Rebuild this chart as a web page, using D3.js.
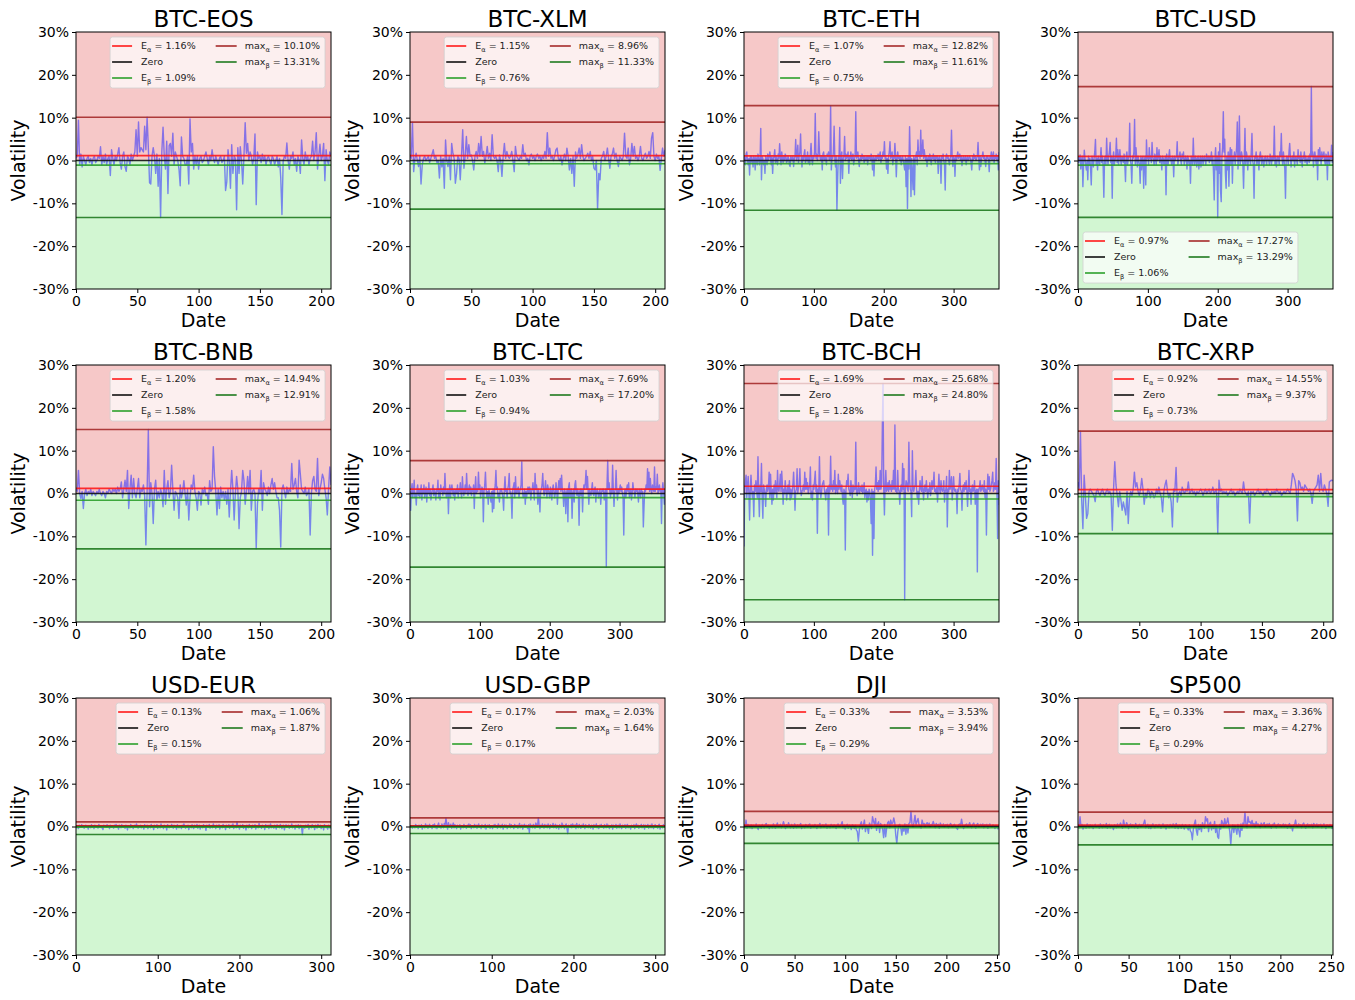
<!DOCTYPE html>
<html><head><meta charset="utf-8">
<script src="https://cdn.jsdelivr.net/npm/d3@7"></script>
<style>body{margin:0;background:#fff}svg text{font-family:"DejaVu Sans",sans-serif;white-space:pre}</style>
</head><body><svg id="chart" width="1355" height="1000"></svg>
<script>
const names = ["BTC-EOS","BTC-XLM","BTC-ETH","BTC-USD","BTC-BNB","BTC-LTC","BTC-BCH","BTC-XRP","USD-EUR","USD-GBP","DJI","SP500"];
const eAlpha = [1.16,1.15,1.07,0.97,1.20,1.03,1.69,0.92,0.13,0.17,0.33,0.33];
const eBeta  = [1.09,0.76,0.75,1.06,1.58,0.94,1.28,0.73,0.15,0.17,0.29,0.29];
const maxAlpha = [10.10,8.96,12.82,17.27,14.94,7.69,25.68,14.55,1.06,2.03,3.53,3.36];
const maxBeta  = [13.31,11.33,11.61,13.29,12.91,17.20,24.80,9.37,1.87,1.64,3.94,4.27];
const yTicks = [-30,-20,-10,0,10,20,30];
const xTicks50 = [0,50,100,150,200];
const xTicks100 = [0,100,200,300];
const xTicks250 = [0,50,100,150,200,250];
const legendCorner = ["ur","ur","ur","ll","ur","ur","ur","ur","ur","ur","ur","ur"];

const eos = [0.5,1,9.4,-1,1.5,-1.5,1,0,-1,0.5, 1,-0.5,0.5,-1,0.5,1,-0.5,0,1,0.5, 3.2,-1,1,-0.5,1.5,-1,0.5,1,-3.5,2.5,
 0.5,-1,1,0,1.5,3,-0.5,-2,1,2, -1.5,-2.5,1,0.5,-1,1.5,0,1,2,7.2, 1,9,2,3,2.5,2,8,2.5,10.1,3,
 -5.2,-5.5,1,3,1,-3,1.5,-6,0.5,-13.31, 2,7.8,1,-2,4.5,-7.7,3.5,4,1,6.4, -1,2,1,0,-2,-5.9,5.5,1,0.5,-1,
 -1,1,-5.5,9.7,2,4,-2,1,-1,1, -2,0.5,1,-0.5,0,1,2,0.5,-1,1, 0,2.5,0.5,-0.5,1,0,-1,0.5,1,-0.5,
 0,1,-7,-5,2.5,0,-6.5,3.7,-3,1, 0.5,-11.5,3,-3,3.2,0,-5.5,1,8.8,1.7, 4,0,2,1,-1,0.5,6.2,-10.3,2,0.5,
 1,-0.5,1.5,0,1,-1,0.5,1,0,-1, 1,0.5,-1,0,1,-1.5,0.5,-4,-12.6,0, 1,0.5,4.1,0,-2,1,0.5,2,-1,0.5,
 -2.5,1,0,-3,4.8,0.5,-1,2,0,1, -1,0.5,1,4.5,0,2,6.5,-2,1,3.8, 0,1,4,-4.7,2.5,0,-1,2,1];
const xlm = [1,0.5,8.96,-2.6,0.5,1.7,0,-1.4,1,-5.5, -1,0.5,1,0,0.5,1,-0.5,0.5,1.5,2.5, 0.5,1,-0.5,0,-4.1,1,-1.5,0.5,-6.5,4.8,
 0,-1.4,1,-4.5,4,1.7,0.5,-5.3,-3,1, 0.5,-4.5,1,7.2,-1.8,1,5.6,0.5,3.7,1, 1.3,0,-2.2,1,2.1,0.5,4,1,5.6,1,
 2.1,-0.6,1,3.3,0.5,1.7,0,6,1,0.5, 1,0,-2.6,1.3,0,-3.7,1,4,0.5,2.1, 1,0.5,1,2.1,0,-2.6,3.3,1,0.5,0,
 1,0.5,3.7,1,1.7,0,0.5,-1,1,1.5, 0.5,1,0,1,1.5,0.5,1,0,1,0.5, 2.1,0.5,6.5,1,2.9,0.5,1,0,1,2.5,
 2.9,0.5,0,1,-1,0.5,1.5,0,2.9,1, -2.2,0.5,-3,1,-6,2,0.5,1.5,2.9,0.5, 3.7,1,0,0.5,1,1.7,0.5,2.1,0,1,
 -1.8,-2.2,0,-11.33,-3,-4.5,0.5,1,2.1,0, 1,2.9,0.5,-1.8,1,1.5,2.9,0.5,1.7,0, -1.4,1,0.5,0,1,6.4,1,0.5,2.9,-1,
 0.5,4,1,3.3,0.5,1,0,1,3.3,0.5, 0,1,1.7,0.5,1,2.1,0.5,5.2,6.5,1, 0,1.5,0.5,1,-2.3,0.5,2.9,1,2.5];
const eth = [1,0.5,-1,1.5,2,0,-1,0.5,-3.4,1, -0.5,1,0,-1.5,1,0.5,-2.2,1,0,-1, 1.5,0.5,-1,0,7.5,-4.5,1,0.5,-1,0,
 -3,1,0.5,-1,1.5,0,1,2,0.5,-1, 1,-3,0.5,1,2.5,-0.5,1,0,-1,1.5, 0.5,3.9,1,-1,2,0.5,-0.5,1,0,1.5,
 1,-0.5,0,1,0.5,-1,-1.4,1,0.5,0, 1,-1.4,0.5,1,4.9,0,1,3.6,-0.5,1, 2,6.2,0.5,-1.5,1,0,1.5,2.5,-0.5,1,
 0,2,-0.5,1,-1,1.5,4,0.5,-1,1, 0.5,2,11,0.5,1.5,0,1,6.7,2,0.5, 0,1,-2.2,1.5,2,0,1,0.5,-1,1.5,
 1,2,0,0.5,12.82,-2.2,1,0.5,2,8, 0.5,-1.5,1,-11.61,-4.5,1,0.5,7.7,-5.3,1, 2,-4.2,0.5,1,5.6,0,1.5,0.5,1,2,
 -3,1,0.5,2,0,1,1.5,-1,0.5,1, 11.4,0.5,1,2,0,-1.4,0.5,1,0,1.5, 0.5,1,-0.5,1,0,0.5,1,-1,1,0.5,
 1,0,1.5,0.5,-2.2,1,-3.6,0.5,1,0, 1,0.5,1.5,0,1,2,-0.5,1,0.5,2, 1,4.4,0.5,1,-2,0.5,-3,1,2,4.4,
 0.5,1,2,-1,1,0.5,4,1,-3.8,0.5, 2,0.5,1,0,1,-1,0.5,1,0,-1, -2.2,1,-6.1,0.5,-11.2,1,-2,7.9,1,-8.4,
 0.5,-3,-6.8,1,-8,0.5,1,2,-1,4.8, 1,2,0.5,7.1,1,2,4.8,0.5,2.5,1, 0,1,-1.4,0.5,1,0,1.5,0.5,-1,1,
 0.5,1.5,0,1,-0.5,1,0.5,1,-3,0.5, 1,0,-5.3,1,0.5,1.5,0,-1,-6.9,1, 1.5,0.5,1,0,-1,0.5,1,7.1,0.5,-1.4,
 1,0.5,-3.7,1,0,1,2,0.5,1,1.5, 0,1,-1.2,0.5,1,0,0.5,1,-1,0.5, 1,0,0.5,1,0.5,-0.5,-2.2,1,0,1.5,
 0.5,1,0,0.5,1,4.2,0.5,-2.2,1,-1.4, 0.5,1,2,0.5,1,0,-1.4,1,0.5,1, 0,-2.6,1,0.5,2,0,1,2,-0.5,1,
 0.5,1.5,0,1,-2.2,2];
const usd = [1,-0.5,0.5,1.3,-2,0,1,-6.1,-1,2.4, 0.5,-1,-2.2,0,-4.5,1,-1,0.5,-2,-5.7, 1,0,-1.5,0.5,2,4.9,-1,0.5,-2.2,1,
 0,-1,0.5,3,-0.5,1,-1.5,-8.6,0.5,1, -1,5.2,0.5,-1,1,2,4.2,-0.5,1,-8.8, 0.5,2,-1,0,1,5.2,-0.5,2.5,-1,1,
 2.5,0,-1,1,0.5,-0.5,1.5,-1,-4.9,1, 2,-1,0.5,1,8.7,0,-1,-5.3,1,0.5, 2,9.6,-1,3,0.5,-1.5,1,0,-1,-5.3,
 1,-2.2,0.5,1,-6.5,0,1,-5.7,4.8,0.5, 1,-1,3,0.5,1,-0.5,4.2,1,0,-1, 1.5,0.5,-1,3,0,1,2.5,-0.5,1,0,
 -2.2,1,0.5,-1,0,1,-8,1.5,0,-1, 1,2.5,0,0.5,-1,1,0.5,-3.8,1,0, 0.5,1,4.4,-1,0.5,1,2,0,-1,1.5,
 0.5,2,-1,0,1,0.5,-2,1,0.5,-1, 0,-5.3,1,0.5,-1,5.2,0,-1,1,0.5, -1.5,0.5,1,-2,0,1,-1.5,0.5,1,-1,
 0.5,1,0,-1,1.5,0.5,0,1,-0.5,1, 0,2,-1,1,-3,-9.2,0.5,3,-2.2,1, -13.29,2,-3,4,-7,-9.6,1,3,11.4,2,
 5,-3,-6.5,1,-2.2,2,-6,1,3,-1, 2.5,-5.3,1,0,2,-1,1,3,9,-2, 1,10.4,-1,0,2,1,-1,-6.5,0.5,7.5,
 -1,2,1,-2.2,0.5,1,0,-1,2,6.3, 0,-1,-8.8,1,0.5,2,-1,1,0,-2.2, 1,2,0.5,-1,1,0,-1.5,0.5,1,0,
 -1,1,0.5,0,-1,1.5,0.5,-1,1,0, 0.5,8,-1,1,-1.5,0,1,0.5,-1,2, 1,6.3,0.5,-1,2,0,-2,-8.8,0.5,1,
 0.5,-1,2,4,1,-1.5,0.5,1,0,2, -1.5,0.5,1,0,-1,2.5,0.5,1,-0.5,2, 0,-1.5,1,0.5,2,-0.5,1,0,-1,0.5,
 1,-0.5,1.5,0,17.27,1,2,-1.5,1,2, 0.5,-1,1,-4.5,2.5,0,3,1,-1,2, 0.5,1,2,0,-1,1.5,0.5,-4.5,2,1,
 -1,1,0.5,3.6,-0.5,2];
const bnb = [1,0.5,5.4,0,-1.2,0.5,-3.5,0,1,-0.5, 0.5,0,1,-0.5,0.5,0,-0.5,0.5,0,1, 0,-0.5,0.5,0,-1,0.5,0,1,0.5,0,
 1,0.5,1,0,1.5,0.5,1,2.7,-1,1, 3.1,0.5,5.4,-3.5,1,4.3,-1,3.5,0,-1, 1,3.5,-1,1,0.5,2,-0.5,-12,0.5,14.94,
 -3.1,2.5,0,-7,1,3.1,-1.5,0.5,-1,1, 0,-3.1,5.4,-2.5,1,3,-1,0.5,6.6,1, -3.9,0.5,0,-1,-5.8,2,-1,0.5,3,0,
 -2.7,1,-6.2,-1,2,1,4.3,0.5,-1,-3.9, 0.5,0,-2.7,1,0,1.5,-0.5,0,-2.5,3, 0.5,1,10.9,4,0.5,-5,1,-3.5,1.5,-1,
 0.5,-1.5,0.5,-2.5,1,-5.5,0.5,5.4,1,-6.2, 0,4,1,-8.2,-1,0.5,5.4,3,-2.5,0.5, 4,0,5.4,-3.9,0.5,1,0,-12.91,-2.5,1,
 0,5.4,-3.9,2.5,1,0.5,-0.5,1.5,0,2, 3.5,1,2.5,0.5,-1,-1,-3.9,-12.5,1,2, 0.5,-1,1.5,0,1,0.5,7,1,2,3.5,
 0.5,-1,7.8,4.5,1,0.5,0,1.5,-0.5,0, 1,-9.7,0,3,4,1,0.5,8.2,-0.5,1, 2.5,4.5,3.5,1,-1,-5,1,6.2,2];
const ltc = [0.5,-3.9,1,2.3,-1,0.5,3.1,-1,0,-2.7, 1,2,-0.5,1,-1,0.5,2,-1.5,1,0, 2,-1,0.5,1.5,-2,1,0,2.5,-0.5,1,
 -1.5,0,1,2,-0.5,1,0,-1.5,1,0.5, 3.1,-1,1,-1.5,2,0.5,1,-0.5,1.5,0, 4.7,1,-1,0.5,1,-4.7,0.5,2,-1,1,
 2,0.5,-0.5,1,-1.5,0.5,1,0,2,-1, 1,0.5,2.5,0,-1,3.9,1,-0.5,0.5,2, 0,4.7,1,-0.5,1,2,0,1.5,-0.5,1,
 0.5,2,-3.5,1,3.9,0,1,0.5,5,1, 2,-1,0.5,1.5,1,-6.6,0.5,2,5,1, -1,0.5,-2.5,1,0,-1,-2,0.5,-4.3,1,
 -3.5,0.5,2,5.4,1,1.5,-1,0,-2,1, 0.5,1,0,-1,-3.9,1,3.9,0.5,1,-1, 1,2,4.7,0,0.5,-1,-5.8,1,1.5,2.5,
 -1,3.9,0.5,0,1,1.5,-1,0.5,1,2, 7.4,0.5,-1,-0.5,1,-2.5,0.5,-1,1,1.5, 0,1.5,1,-1.5,0.5,1,2.5,0.5,-1.5,4.7,
 1,2,0.5,-2.5,1,-1,-4.3,0.5,1,2, 4.7,1,-0.5,1,3,0.5,-1,2,1,0, -1,1.5,0.5,-1.5,1,2,0.5,-1,0,2.5,
 1,-2.5,0.5,3,1,3.5,0.5,4.3,1,0, -3,1,0.5,-4.7,0,1,-6.6,1.5,2.5,-1, 0.5,1,-5.8,0,1,-2,2,3,0.5,-0.5,
 1,0,-7.4,0.5,1,-0.5,1,-4.3,0.5,2, 1,2.5,5.4,1,4,0.5,-2.5,1,0,-0.5, 1,2.5,0,-0.5,1,1.5,-2,0.5,1,0,
 -1,0.5,1,-2.5,0,1,0.5,1,-1.5,0, 1,-17.2,2,7.69,1,2.5,0.5,-1,1,0, 6.6,1,-3,0.5,1,5.4,0.5,-1.5,1,0,
 1,2,0.5,1.5,0,-1,-9.7,0.5,1,-1, 1,2,0.5,2.5,-1,0.5,1,-1.5,0,2.5, 1,0.5,-1,1,0.5,1,0,-2,1,0.5,
 -1,1,0,0.5,-7.8,-3,1,0.5,2,1, 5.8,1,5,0.5,3.5,1,0,2,1,0.5, 6.2,0.5,1.5,1,4.5,0,1,2,0.5,1,
 -7,1,2.5,0.5,-2.5,1];
const bch = [-12.4,1,3,4.3,-1,2,4,0,-6.2,1, 4.3,1,-1,0.5,-5.4,2,0.5,3,1,-1, 8.6,0,-5.4,2,0.5,7,-1,-5.8,2,1,
 0,-3,1,2,0.5,1.5,5,-1,4.5,0.5, -2.5,1,-1.5,2,0,3,1,-1,5.4,1, 0.5,2,4.5,0.5,5.2,2,-2.5,1,0,3,
 1,-1.5,0.5,2,0,3,-1.5,1,-1,0.5, 2,5,1,-3.9,0.5,1,5.8,0,1.5,2, 5.8,1,-0.5,0.5,1,2,0.5,5,1,3.5,
 1,2.5,0,1,2,6.2,-1,0.5,-1.5,2, 1,3,5.2,0.5,2,-9.3,1,0,8.6,1, -1,0.5,2,2.5,3,1,0,-1.5,1,0.5,
 1.5,-9.7,2,0.5,8.7,1,2,0.5,3,1, 5.4,0,2,1,0,4.5,1,3,1.5,0.5, 2,-1,-2.5,1,0.5,-13.2,1,3,2,4.5,
 1,0.5,-0.5,3,1,-1,2,0.5,1.5,1, 12,0.5,-0.5,1,2.5,0,1,1.5,0.5,2, 0,1,2.5,-1,0.5,1,-2,0.5,-1.5,1,
 0.5,-1.5,-7,1,-14.4,0.5,-10.5,1,2,6.2, 1,2.5,0.5,3,1,5.4,1,2,15.2,25.68, 1,-5,2,5.4,0.5,1,2.5,0.5,3,1,
 2,0.5,3,1,5.4,1,16,0.5,1,0, 5.4,1,0.5,-2.5,1,2,0.5,7,1,5.8, -24.8,1,3,2.5,1,0.5,12,3,1,0.5,
 -5.4,10,1,0.5,1.5,2,5.4,1,-1,0.5, -2.5,1,3,1,0.5,4,1,-1.5,1,2, 0.5,3,1,-1,1,0.5,2.5,-0.5,1,3,
 1,2,5,0.5,1,0,1.5,-2,1,4.5, 1,0,3,1,0.5,1,3,-2,0.5,1, 4,-7.8,1,0.5,5.4,1,2,3.9,-1.5,1,
 3.9,1,0.5,1,0,-4.7,1,0.5,2,4.7, 1,0.5,-3.9,1,2,0.5,2.5,1,3,0.5, -3,1,5.4,0.5,1,-2.5,1,2,0.5,1,
 3,-2.5,0.5,1,-18.3,1,0.5,1.5,3,0.5, 1,2,1,0.5,3,-1,1,-9.7,0.5,4.5, 1,3.9,0.5,1,2,3,5,0.5,1,2.5,
 1,8.2,0.5,-10.5,3,-2.7];
const xrp = [2.7,1,14.55,-1.5,-8.2,4.3,-0.5,-5.8,-4.7,0.5, 1,0.5,0,-0.5,-1.9,0.5,1,0,-0.5,0.5, 1,0,-0.5,0.5,1,0,0.5,-0.5,-8.6,1,
 7.4,2,-0.5,-3.1,0.5,-1.5,-3.9,-2,-3.5,-5, 0.5,-7,-1,0.5,-0.5,1,5,1.5,2.5,0.5, -0.5,1,3.5,1,-2.5,0,-1,1,0.5,-1,
 0.5,0,-1,-0.5,1,0,1.5,0,-1,-4.3, 0.5,2,3.1,0.5,-1,0,-2,-7.8,1,0.5, 6.1,-2,0,0.5,-0.5,1.5,0.5,0,1,0.5,
 2.7,0,0.5,1,0,0.5,-0.5,0.5,0,0.5, 1,0.5,-0.5,0.5,1,0,0.5,1,0,0.5, 1.5,0,0.5,1,-9.37,3.1,0.5,1,0,0.5,
 0,0.5,-0.5,0,0.5,1,0,0.5,-0.5,0, 0.5,0,1,0.5,0,2.7,0.5,0,-0.5,0.5, -6.9,0.5,0,0.5,-0.5,0,0.5,1,0,0.5,
 0,-0.5,0.5,0,1,0.5,0,-0.5,0.5,0, 0.5,0,1,0.5,0,0.5,-0.5,0,0.5,0, 0.5,1,0.5,0,2,4.7,4,3,1,-6.4,
 3,2.5,1,1.5,0.5,2,1.5,1,0.5,1, 0,-2.3,0.5,1,1.5,2,4.3,0.5,4.7,1, 0.5,2,1,0,-3,2.7,3,3.1,3];
const eur = [0.2,-0.3,0.1,-0.5,0.3,0,-0.2,0.4,-0.1,0.2, -0.4,0.1,0.3,-0.2,0,-0.6,0.2,0.1,-0.3,0.4, -0.1,0.2,-0.5,0.3,0,-0.2,0.1,-0.4,0.5,-0.1,
 0.2,-0.3,0.1,-0.7,0.3,0,0.2,-0.2,0.4,-0.1, 0.1,-0.5,0.3,-0.2,0.2,0,-0.4,0.3,-0.1,0.5, -0.2,0.1,-0.6,0.3,0.1,-0.3,0.4,0,-0.2,0.2,
 -0.4,0.3,0.1,-0.8,0.2,0,-0.3,0.5,-0.1,0.2, -0.5,0.1,0.3,-0.2,0.6,0,-0.4,0.2,-0.1,0.3, -0.3,0.2,0.1,-0.6,0.4,0,-0.2,0.3,-0.5,0.1,
 0.2,-0.3,0.5,-0.1,0.2,-0.7,0.3,0.1,-0.2,0.4, -0.4,0.2,0,-0.3,0.6,-0.1,0.2,-0.5,0.3,0, 0.1,-0.8,0.4,0.2,-0.3,0.1,-0.2,0.5,0,-0.4,
 0.3,-0.1,0.2,-0.6,0.4,0,-0.3,0.2,0.1,-0.5, 0.3,-0.2,0.6,0,-0.4,0.2,-0.1,0.3,-0.7,0.1, 0.2,-0.3,0.4,0,-0.5,0.3,0.1,-0.2,0.5,-0.4,
 0.1,0.3,-0.6,0.2,0,-0.3,0.4,-0.1,0.2,-0.9, 0.3,0.1,-0.2,0.5,-0.4,0,0.2,-0.3,0.6,-0.1, 0.2,-0.5,0.3,0,-0.2,0.4,-0.6,0.1,0.2,-0.3,
 0.5,-0.1,0.2,-0.7,0.3,0,-0.2,0.4,-0.4,0.1, 0.3,-0.2,0.6,-0.5,0.1,0.2,-0.3,1.06,-0.1,0.2, -0.6,0.3,0,-0.2,0.4,-0.4,0.2,0.1,-0.8,0.3,
 0,-0.3,0.5,-0.1,0.2,-0.5,0.3,0.1,-0.2,0.4, -0.6,0.2,0,-0.3,0.7,-0.1,0.2,-0.4,0.3,0, 0.1,-0.7,0.4,0.2,-0.2,0.3,-0.5,0.1,0.6,-0.3,
 0.2,0,-0.4,0.3,0.1,-0.6,0.4,-0.1,0.2,-0.3, 0.5,0,-0.5,0.2,0.3,-0.8,0.1,0.4,-0.2,0, 0.3,-0.4,0.2,-0.1,0.6,-0.3,0.1,0.2,-0.6,0.3,
 0,-0.2,0.4,-0.5,0.1,0.3,-0.3,-1.87,0.2,0.1, -0.4,0.3,0,-0.2,0.5,-0.6,0.2,0.1,-0.3,0.4, -0.1,0.2,-0.7,0.3,0,-0.4,0.5,0.1,-0.2,0.3,
 -0.5,0.2,0,-0.8,0.4,0.1,-0.3,0.2,-0.6,0.3, 0,-0.4,0.2];
const gbp = [0.3,-0.2,0.1,-0.4,0.2,0,-0.3,0.5,-0.1,0.2, -0.5,0.3,0.1,-0.2,0.4,-0.6,0.2,0,-0.3,0.6, -0.1,0.3,-0.4,0.2,0.5,-0.2,0.1,-0.5,0.4,0.2,
 0.6,-0.3,0.2,-0.5,0.3,0.8,-0.2,0.1,-0.4,0.6, 0.2,-0.3,0.7,0.3,1.95,0.4,-0.6,0.9,-0.2,0.3, 0.5,-0.4,0.2,0.8,-0.3,0.4,0.1,-0.5,0.3,0,
 -0.2,0.4,-0.6,0.2,0.1,-0.3,0.5,-0.1,0.2,-0.4, 0.3,0,0.6,-0.2,0.4,-0.5,0.2,0.1,-0.3,0.5, -0.1,0.3,-0.4,0.2,0.6,-0.2,0.1,-0.5,0.4,0,
 0.2,-0.3,0.5,-0.6,0.1,0.3,-0.2,0.4,-0.4,0.2, 0.1,-0.5,0.3,0,0.5,-0.2,0.2,-0.4,0.6,-0.1, 0.3,-0.3,0.2,0.5,-0.6,0.1,0.4,-0.2,0.3,-0.5,
 0.2,0,0.6,-0.3,0.4,-0.1,0.2,-0.5,0.5,0.1, -0.2,0.3,-0.4,0.2,0.7,-0.3,0.1,0.4,-0.6,0.2, 0.5,-0.2,0.3,0,-0.5,0.4,-1.4,0.6,-0.1,0.3,
 -0.3,0.5,0.2,-0.4,0.8,0.3,-0.2,2.03,0.4,-0.5, 0.3,-0.2,0.6,0.1,-0.4,0.5,-0.1,0.3,-0.3,0.6, 0.2,-0.5,0.4,0,-0.2,0.7,-0.3,0.2,0.5,-0.4,
 0.3,0.1,-0.6,0.4,0.2,-0.3,0.8,-0.1,0.3,-0.5, 0.2,0.6,-0.4,-1.64,0.3,0.1,-0.2,0.5,-0.3,0.6, 0.2,-0.1,0.4,-0.5,0.7,0,-0.3,0.5,0.2,-0.4,
 0.3,-0.2,0.6,0.1,-0.5,0.4,-0.1,0.2,-0.3,0.5, 0,-0.4,0.3,0.2,-0.6,0.4,-0.2,0.1,0.6,-0.3, 0.2,-0.5,0.3,0,0.5,-0.2,0.1,-0.4,0.4,0.2,
 -0.3,0.6,-0.1,0.3,-0.5,0.2,0,0.4,-0.6,0.3, 0.1,-0.2,0.5,-0.4,0.2,0.3,-0.3,0.6,0,-0.5, 0.3,0.2,-0.2,0.4,-0.4,0.1,0.5,-0.3,0.2,0,
 -0.6,0.3,0.1,-0.2,0.4,-0.5,0.2,0.6,-0.1,0.3, -0.4,0.2,0,0.5,-0.3,0.1,0.4,-0.6,0.3,0.2, -0.2,0.5,-0.4,0.1,0.3,-0.3,0.6,0,-0.5,0.2,
 0.4,-0.2,0.1,-0.4,0.3,0.5,-0.6,0.2,0,-0.3, 0.4,-0.2,0.3];
const dji = [0.3,-0.2,1.5,-0.4,0.5,0.2,-0.3,0.4,-0.5,0.3, 0.1,-0.2,0.6,-0.1,-0.7,0.3,0.2,-0.4,0.5,0.1, -0.3,0.4,0.7,-0.2,0.3,-0.5,0.2,0.1,-0.3,0.6,
 0.2,-0.4,0.3,0.8,-0.2,0.1,0.5,-0.3,0.2,1.1, 0.3,-0.5,0.4,-0.2,0.9,0.1,-0.3,0.5,0.2,-0.4, 0.6,0.2,-0.3,0.4,-0.1,0.3,0.7,-0.5,0.2,0.1,
 -0.3,0.5,0.2,-0.2,0.4,0.6,-0.4,0.1,0.3,-0.2, 0.5,0.2,-0.5,0.3,0.1,0.7,-0.3,0.2,0.4,-0.2, 0.3,0.6,-0.4,0.2,0.1,-0.3,0.5,0.3,-0.2,0.4,
 0.2,-0.5,0.3,0.6,-0.1,0.2,0.4,1.1,-0.3,0.3, -0.6,0.2,0.5,-0.4,0.3,0.1,-0.7,0.4,0.2,-0.5, 0.3,-0.8,-1.2,-3.4,-0.8,0.5,1.1,-0.6,0.4,1.5,
 -1.2,0.3,-0.3,-1.6,0.8,0.2,-0.5,2.3,1.2,0.4, 1.9,-0.9,0.6,1.1,-1.4,0.7,0.3,-0.6,-2.6,0.5, -2.4,-0.4,0.9,1.2,-0.3,1.5,0.6,0.8,2,0.9,
 -2.1,-3.94,-1.2,0.3,0.5,-0.4,-2,0.2,-1.1,0.6, -1.8,0.4,-1.5,0.7,0.9,3.53,0.6,-0.2,1,2.6, 0.4,1.2,1.9,0.3,0.2,-0.4,1.5,0.5,0.7,-0.1,
 0.6,0.9,0.2,0.8,-0.2,0.5,0.3,1.2,0.4,-0.3, 0.7,0.2,0.5,-0.4,0.8,0.3,0.1,0.6,-0.2,0.4, 0.3,0.5,-0.3,0.2,0.7,0.4,-0.2,0.3,0.5,0.1,
 -0.3,-0.7,0.4,0.6,0.2,1.7,0.3,-0.5,0.2,0.4, 0.6,-0.2,0.3,0.9,0.1,-0.3,0.5,0.8,0.2,-0.4, 0.4,0.7,-0.2,0.3,0.5,0.1,0.6,-0.3,0.4,0.2,
 0.5,-0.4,0.3,0.6,0.1,-0.2,0.4,0.2,-0.5,0.3, 0.1,-0.6,0.2];
const sp500 = [0.4,-0.3,2.3,-0.2,0.5,-0.6,0.3,0.1,-0.4,0.6, 0.2,-0.3,0.4,-0.1,0.3,-0.5,0.2,0.5,-0.2,0.1, 0.3,-0.4,0.6,0.2,-0.3,0.4,0.1,-0.2,0.7,-0.4,
 0.2,0.5,-0.3,0.3,0.1,-0.7,0.4,0.2,-0.3,0.6, -0.2,0.3,0.8,0.2,-0.4,1.5,0.3,-0.2,0.9,0.4, -0.5,0.3,0.6,-0.2,0.4,0.2,-0.3,0.7,0.1,-0.4,
 0.3,0.5,-0.2,0.4,0.2,0.8,1.5,-0.3,0.2,0.5, -0.4,0.3,-0.5,0.2,0.6,0.1,-0.3,0.4,0.2,-0.2, 0.5,0.3,-0.4,0.2,0.6,-0.1,0.3,-0.6,0.4,0.2,
 -0.3,0.5,0.2,-0.2,0.6,0.3,-0.4,0.7,0.1,-0.5, 0.3,0.2,-0.4,0.5,0.1,-0.6,0.4,0.2,-0.3,-0.8, 0.4,-1,-1.4,-3.1,-0.6,0.6,1.5,-1,-2,0.5,
 -0.7,0.4,-1.2,0.9,0.2,-0.4,2.3,1.3,1.8,-1.2, 0.6,1,-0.8,0.4,-0.5,1.2,-1.4,0.3,-2.4,-2.8, 0.5,-0.6,1.4,0.8,-0.2,1.8,0.5,0.9,2,0.4,
 -1.2,-4.27,-0.8,0.4,-1.4,0.3,-0.6,-1.8,0.5,-1, -2.4,0.6,-0.9,0.8,0.5,3.36,0.4,-0.3,2.3,1, 1.1,0.5,1.4,0.3,0.7,-0.2,1.1,0.4,0.6,0.2,
 -0.3,0.8,0.3,0.5,0.9,-0.2,0.4,0.6,0.1,0.7, 0.2,-0.4,0.5,0.3,0.8,0.1,-0.3,0.4,0.6,0.2, 0.4,-0.2,0.3,0.6,-0.1,0.5,0.2,-0.4,0.3,0.7,
 -0.3,0.2,-1,0.4,0.3,1.5,0.1,-0.2,0.6,0.3, 0.4,-0.3,0.5,0.8,0.2,-0.4,0.3,0.6,-0.1,0.4, 0.2,0.5,-0.3,0.7,0.3,0.1,0.6,-0.2,0.4,0.3,
 0.5,-0.3,0.2,0.6,0.1,-0.5,0.4,0.3,-0.2,0.5, 0.2,-0.5,0.1];

const seriesList = [eos,xlm,eth,usd,bnb,ltc,bch,xrp,eur,gbp,dji,sp500];
const xTickSets = [xTicks50,xTicks50,xTicks100,xTicks100,xTicks50,xTicks100,xTicks100,xTicks50,xTicks100,xTicks100,xTicks250,xTicks250];

const svg = d3.select("#chart");
const colX = [76,410,744,1078], rowY = [32,365,698];
const W = 255, H = 257;
const C = {redBg:"#f6c8c8", greenBg:"#d2f6d2", line:"#2a2aff", ea:"#ff1a1a", zero:"#111", eb:"#2ca02c", ma:"#a52a2a", mb:"#1f7a1f"};

function richText(sel, parts, fs){
  const t = sel.append("text").attr("font-size", fs).attr("fill","#222");
  t.append("tspan").text(parts[0]);
  if (parts.length > 1){
    t.append("tspan").attr("font-size", fs*0.7).attr("dy", fs*0.25).text(parts[1]);
    t.append("tspan").attr("dy", -fs*0.25).text(parts[2]);
  }
  return t;
}

names.forEach((name, i) => {
  const data = seriesList[i];
  const gx = colX[i % 4], gy = rowY[Math.floor(i / 4)];
  const g = svg.append("g").attr("transform", `translate(${gx},${gy})`);
  const x = d3.scaleLinear().domain([0, data.length - 1]).range([0, W]);
  const y = d3.scaleLinear().domain([-30, 30]).range([H, 0]);

  g.append("rect").attr("x",0).attr("y",y(30)).attr("width",W).attr("height",y(0)-y(30)).attr("fill",C.redBg);
  g.append("rect").attr("x",0).attr("y",y(0)).attr("width",W).attr("height",y(-30)-y(0)).attr("fill",C.greenBg);

  const clipId = "clip" + i;
  g.append("clipPath").attr("id", clipId).append("rect").attr("width", W).attr("height", H);
  const pg = g.append("g").attr("clip-path", `url(#${clipId})`);
  pg.append("path").datum(data)
    .attr("d", d3.line().x((d, k) => x(k)).y(d => y(d)))
    .attr("fill","none").attr("stroke",C.line).attr("stroke-opacity",0.55).attr("stroke-width",1.4)
    .attr("stroke-linejoin","round");

  const hlines = [[eAlpha[i], C.ea], [0, C.zero], [-eBeta[i], C.eb], [maxAlpha[i], C.ma], [-maxBeta[i], C.mb]];
  hlines.forEach(([v, col]) => {
    pg.append("line").attr("x1",0).attr("x2",W).attr("y1",y(v)).attr("y2",y(v))
      .attr("stroke",col).attr("stroke-width",1.7).attr("stroke-opacity",0.9);
  });

  g.append("rect").attr("width",W).attr("height",H).attr("fill","none").attr("stroke","#000").attr("stroke-width",1);

  const ya = g.append("g").call(d3.axisLeft(y).tickValues(yTicks).tickFormat(d => d + "%").tickSize(4).tickPadding(3));
  ya.select(".domain").remove();
  ya.selectAll("text").attr("font-size",14).attr("font-family","DejaVu Sans").attr("fill","#000");
  const xa = g.append("g").attr("transform",`translate(0,${H})`).call(d3.axisBottom(x).tickValues(xTickSets[i]).tickFormat(d3.format("d")).tickSize(4).tickPadding(3));
  xa.select(".domain").remove();
  xa.selectAll("text").attr("font-size",14).attr("font-family","DejaVu Sans").attr("fill","#000");

  g.append("text").attr("x",W/2).attr("y",-5).attr("text-anchor","middle").attr("font-size",23).attr("fill","#000").text(name);
  g.append("text").attr("x",W/2).attr("y",H+38).attr("text-anchor","middle").attr("font-size",19).attr("fill","#000").text("Date");
  g.append("text").attr("transform",`translate(-51,${H/2}) rotate(-90)`).attr("text-anchor","middle").attr("font-size",19).attr("fill","#000").text("Volatility");

  // legend
  const fs = 9.5;
  const lg = g.append("g");
  const box = lg.append("rect").attr("rx",2.5).attr("fill","#fff").attr("fill-opacity",0.7).attr("stroke","#d0d0d0").attr("stroke-width",0.8);
  const col1 = [[C.ea, ["E","α"," = " + eAlpha[i].toFixed(2) + "%"]], [C.zero, ["Zero"]], [C.eb, ["E","β"," = " + eBeta[i].toFixed(2) + "%"]]];
  const col2 = [[C.ma, ["max","α"," = " + maxAlpha[i].toFixed(2) + "%"]], [C.mb, ["max","β"," = " + maxBeta[i].toFixed(2) + "%"]]];
  const t1 = col1.map(c => richText(lg, c[1], fs));
  const t2 = col2.map(c => richText(lg, c[1], fs));
  const w1 = d3.max(t1, t => t.node().getComputedTextLength());
  const w2 = d3.max(t2, t => t.node().getComputedTextLength());
  const boxW = 2 + 20 + 9 + w1 + 20 + 21 + 8 + w2 + 5, boxH = 51;
  const bx = legendCorner[i] === "ll" ? 5 : W - 6 - boxW;
  const by = legendCorner[i] === "ll" ? H - 6 - boxH : 5;
  box.attr("x",bx).attr("y",by).attr("width",boxW).attr("height",boxH);
  const c2x = bx + 2 + 20 + 9 + w1 + 20;
  col1.forEach((c, r) => {
    const cy = by + 9 + 16 * r;
    lg.append("line").attr("x1",bx+2).attr("x2",bx+22).attr("y1",cy).attr("y2",cy).attr("stroke",c[0]).attr("stroke-width",1.6);
    t1[r].attr("x", bx + 31).attr("y", cy + fs*0.36);
  });
  col2.forEach((c, r) => {
    const cy = by + 9 + 16 * r;
    lg.append("line").attr("x1",c2x).attr("x2",c2x+21).attr("y1",cy).attr("y2",cy).attr("stroke",c[0]).attr("stroke-width",1.6);
    t2[r].attr("x", c2x + 29).attr("y", cy + fs*0.36);
  });
});
</script></body></html>
